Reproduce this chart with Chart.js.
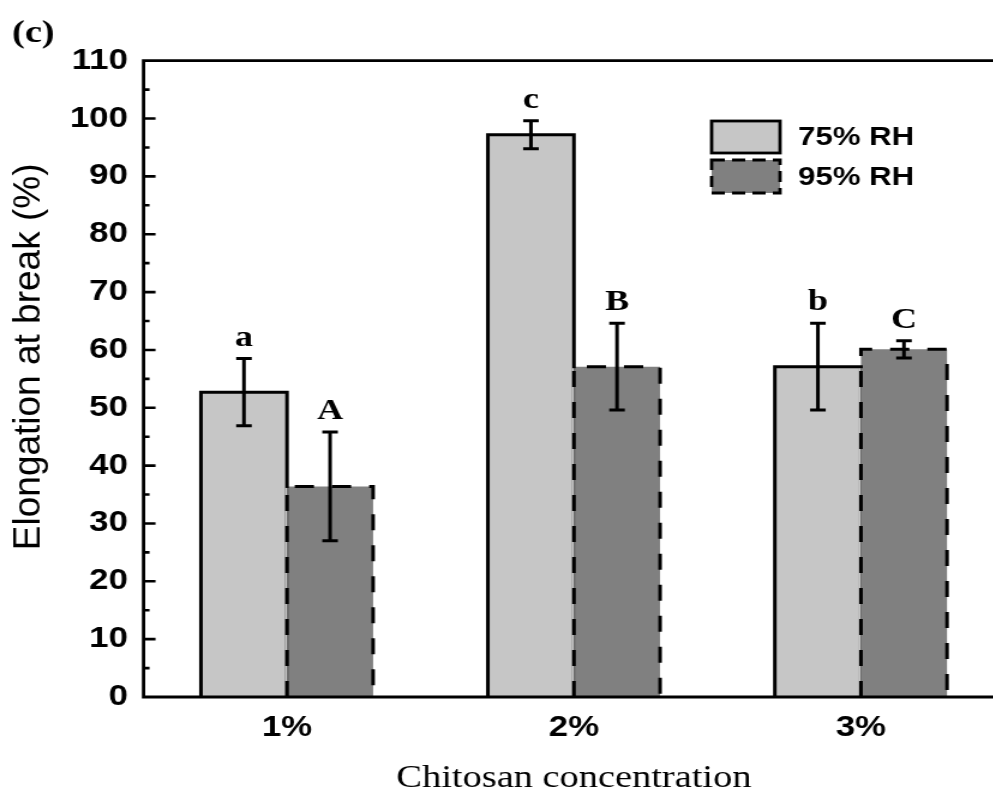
<!DOCTYPE html>
<html>
<head>
<meta charset="utf-8">
<script src="https://cdn.jsdelivr.net/npm/chart.js@4.4.0/dist/chart.umd.min.js"></script>
<style>
  html, body { margin: 0; padding: 0; background: #fff; overflow: hidden; width: 993px; height: 792px; }
  #wrap { position: absolute; left: 0; top: 0; width: 837px; height: 792px; transform: scaleX(1.2); transform-origin: 0 0; }
  canvas { display: block; }
</style>
</head>
<body>
<div id="wrap"><canvas id="chart" width="837" height="792"></canvas></div>
<script>
// Chitosan concentration vs. elongation at break, two humidity levels
const categories = ['1%', '2%', '3%'];
const seriesNames = ['75% RH', '95% RH'];
const rh75 = [52.7, 97.2, 57.1];
const rh75Err = [5.8, 2.4, 7.5];
const rh95 = [36.4, 57.1, 60.1];
const rh95Err = [9.4, 7.5, 1.5];
const rh75Letters = ['a', 'c', 'b'];
const rh95Letters = ['A', 'B', 'C'];
const yTickValues = [0, 10, 20, 30, 40, 50, 60, 70, 80, 90, 100, 110];
const yTitle = 'Elongation at break (%)';
const xTitle = 'Chitosan concentration';

const SX = 1.2; // horizontal stretch applied to the whole canvas by CSS
const LIGHT = '#c6c6c6';
const DARK = '#808080';
const SANS = '"Liberation Sans", Arial, sans-serif';
const SERIF = '"Liberation Serif", "Times New Roman", serif';

const errors = [rh75Err, rh95Err];
const letters = [rh75Letters, rh95Letters];

function barBox(bar) {
  const { x, y, base, width } = bar.getProps(['x', 'y', 'base', 'width'], true);
  return { x, y, base, l: x - width / 2, r: x + width / 2 };
}

// Outlines of each bar: solid for 75% RH, dashed for 95% RH
const barOutline = {
  id: 'barOutline',
  afterDatasetsDraw(chart) {
    const ctx = chart.ctx;
    const light = chart.getDatasetMeta(0).data.map(barBox);
    const dark = chart.getDatasetMeta(1).data.map(barBox);
    ctx.save();
    ctx.lineWidth = 3;
    ctx.strokeStyle = '#000';
    ctx.setLineDash([]);
    light.forEach(b => {
      ctx.beginPath();
      ctx.moveTo(b.l, b.base); ctx.lineTo(b.l, b.y); ctx.lineTo(b.r, b.y); ctx.lineTo(b.r, b.base);
      ctx.stroke();
    });
    dark.forEach((b, i) => {
      // the shared edge shows only the dashed line
      const top = Math.max(light[i].y, b.y) + 1.5;
      ctx.fillStyle = LIGHT;
      ctx.fillRect(b.l - 1.6, top, 1.6, b.base - top);
      ctx.fillStyle = DARK;
      ctx.fillRect(b.l, top, 1.6, b.base - top);
    });
    ctx.setLineDash([16, 15]);
    dark.forEach(b => {
      ctx.beginPath();
      ctx.moveTo(b.l, b.base); ctx.lineTo(b.l, b.y); ctx.lineTo(b.r, b.y); ctx.lineTo(b.r, b.base);
      ctx.stroke();
    });
    ctx.restore();
  }
};

// Axes frame, inward ticks, error bars, significance letters, legend, titles and panel tag
const decorations = {
  id: 'decorations',
  afterDatasetsDraw(chart) {
    const ctx = chart.ctx;
    const area = chart.chartArea;
    const ys = chart.scales.y;
    ctx.save();

    // error bars and letters
    chart.data.datasets.forEach((ds, di) => {
      const meta = chart.getDatasetMeta(di);
      meta.data.forEach((bar, i) => {
        const x = bar.getProps(['x'], true).x;
        const v = ds.data[i], e = errors[di][i];
        const yHi = ys.getPixelForValue(v + e);
        const yLo = ys.getPixelForValue(v - e);
        ctx.strokeStyle = '#000';
        ctx.lineWidth = 3;
        ctx.setLineDash([]);
        ctx.beginPath();
        ctx.moveTo(x, yHi); ctx.lineTo(x, yLo);
        ctx.moveTo(x - 6.5, yHi); ctx.lineTo(x + 6.5, yHi);
        ctx.moveTo(x - 6.5, yLo); ctx.lineTo(x + 6.5, yLo);
        ctx.stroke();
        ctx.fillStyle = '#000';
        ctx.font = 'bold 30px ' + SERIF;
        ctx.textAlign = 'center';
        ctx.textBaseline = 'alphabetic';
        ctx.fillText(letters[di][i], x, yHi - 13);
      });
    });

    // frame
    ctx.strokeStyle = '#000';
    ctx.lineWidth = 2.8;
    ctx.beginPath();
    ctx.moveTo(area.left, area.top);
    ctx.lineTo(area.left, area.bottom);
    ctx.moveTo(area.left - 1.4, area.bottom);
    ctx.lineTo(chart.width, area.bottom);
    ctx.moveTo(area.left - 1.4, area.top);
    ctx.lineTo(chart.width, area.top);
    ctx.stroke();

    // inward y ticks, major and minor
    ctx.lineWidth = 2.6;
    ctx.beginPath();
    yTickValues.forEach((v, k) => {
      const py = ys.getPixelForValue(v);
      if (k > 0 && k < yTickValues.length - 1) {
        ctx.moveTo(area.left, py); ctx.lineTo(area.left + 10, py);
      }
      if (k < yTickValues.length - 1) {
        const pm = ys.getPixelForValue((v + yTickValues[k + 1]) / 2);
        ctx.moveTo(area.left, pm); ctx.lineTo(area.left + 5, pm);
      }
    });
    ctx.stroke();

    // legend
    const boxes = [
      { y: 121, h: 32, fill: LIGHT, dash: [] },
      { y: 160, h: 33, fill: DARK, dash: [11, 6] }
    ];
    boxes.forEach((b, k) => {
      ctx.fillStyle = b.fill;
      ctx.fillRect(593, b.y, 57, b.h);
      ctx.setLineDash(b.dash);
      ctx.lineWidth = 2.8;
      ctx.strokeStyle = '#000';
      ctx.strokeRect(593, b.y, 57, b.h);
      ctx.setLineDash([]);
      ctx.fillStyle = '#000';
      ctx.font = 'bold 26px ' + SANS;
      ctx.textAlign = 'left';
      ctx.textBaseline = 'middle';
      ctx.fillText(chart.data.datasets[k].label, 665, b.y + b.h / 2 + 1);
    });

    // y-axis title, drawn without the horizontal stretch
    ctx.save();
    ctx.translate(40 / SX, (area.top + area.bottom) / 2 - 22);
    ctx.scale(1 / SX, 1);
    ctx.rotate(-Math.PI / 2);
    ctx.font = '37px ' + SANS;
    ctx.textAlign = 'center';
    ctx.textBaseline = 'alphabetic';
    ctx.fillText(yTitle, 0, 0);
    ctx.restore();

    // panel tag
    ctx.font = 'bold 32px ' + SERIF;
    ctx.textAlign = 'left';
    ctx.textBaseline = 'alphabetic';
    ctx.fillText('(c)', 10, 42);

    ctx.restore();
  }
};

new Chart(document.getElementById('chart'), {
  type: 'bar',
  data: {
    labels: categories,
    datasets: [
      { label: seriesNames[0], data: rh75, backgroundColor: LIGHT, borderWidth: 0,
        categoryPercentage: 0.6, barPercentage: 1 },
      { label: seriesNames[1], data: rh95, backgroundColor: DARK, borderWidth: 0,
        categoryPercentage: 0.6, barPercentage: 1 }
    ]
  },
  options: {
    responsive: false,
    animation: false,
    devicePixelRatio: 1,
    layout: { padding: { top: 60.7, left: 0, right: 0, bottom: 0 } },
    plugins: { legend: { display: false }, tooltip: { enabled: false } },
    scales: {
      x: {
        grid: { display: false, drawTicks: false },
        border: { display: false },
        ticks: { font: { family: SANS, size: 29, weight: 'bold' }, color: '#000', padding: 13.6 },
        title: {
          display: true, text: xTitle, color: '#000',
          font: { family: SERIF, size: 32, lineHeight: 1 }, padding: { top: 0, bottom: -3 }
        },
        afterFit: s => { s.height = 95; }
      },
      y: {
        min: 0, max: 110,
        grid: { display: false, drawTicks: false },
        border: { display: false },
        afterBuildTicks: s => { s.ticks = yTickValues.map(v => ({ value: v })); },
        ticks: { font: { family: SANS, size: 29, weight: 'bold' }, color: '#000', padding: 13 },
        title: { display: false },
        afterFit: s => { s.width = 119.6; }
      }
    }
  },
  plugins: [barOutline, decorations]
});
</script>
</body>
</html>
